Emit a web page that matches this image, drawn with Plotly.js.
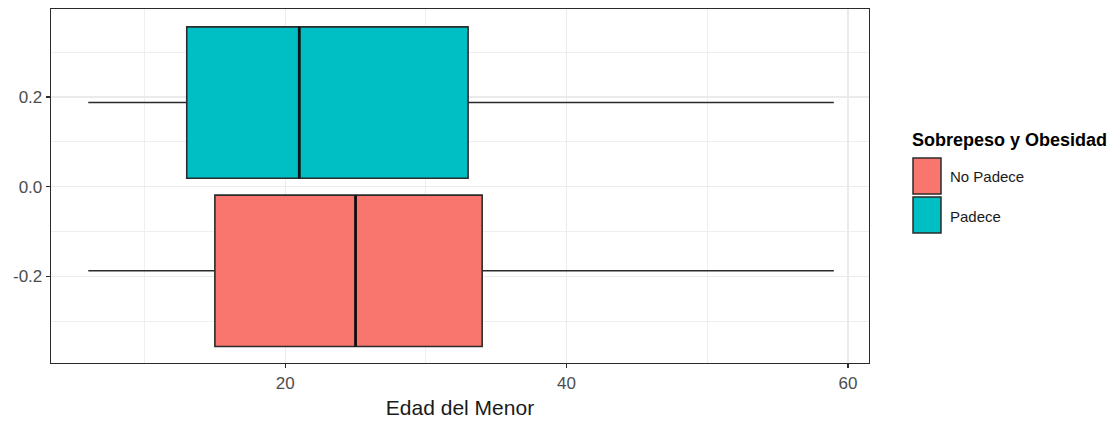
<!DOCTYPE html>
<html>
<head>
<meta charset="utf-8">
<script src="https://cdn.plot.ly/plotly-3.0.1.min.js"></script>
<style>
  html, body { margin: 0; padding: 0; background: #ffffff; }
  #chart { width: 1117px; height: 423px; }
</style>
</head>
<body>
<div id="chart"></div>
<script>
// ---- data ----
const groups = ['No Padece', 'Padece'];
const positions = [-0.1875, 0.1875];
const lowerFence = [6, 6];
const q1 = [15, 13];
const median = [25, 21];
const q3 = [34, 33];
const upperFence = [59, 59];
const colors = ['#F8766D', '#00BFC4'];
const yTickVals = [-0.2, 0.0, 0.2];
const yTickText = ['-0.2', '0.0', '0.2'];
const xTickVals = [20, 40, 60];
const xTickText = ['20', '40', '60'];
const legendTitle = 'Sobrepeso y Obesidad';
const xTitle = 'Edad del Menor';

// ---- styles ----
const BOX_WIDTH = 0.3375;
const FONT = '"Liberation Sans", Arial, Helvetica, sans-serif';
const EDGE = '#2b2b2b';

const traces = [];
groups.forEach((g, i) => {
  traces.push({
    type: 'box',
    orientation: 'h',
    name: g,
    y: [positions[i]],
    q1: [q1[i]],
    median: [median[i]],
    q3: [q3[i]],
    lowerfence: [lowerFence[i]],
    upperfence: [upperFence[i]],
    width: BOX_WIDTH,
    whiskerwidth: 0,
    boxpoints: false,
    fillcolor: colors[i],
    line: { color: EDGE, width: 1.6 },
    hoverinfo: 'skip',
    showlegend: false
  });
});
// thicker median lines (ggplot fatten)
groups.forEach((g, i) => {
  traces.push({
    type: 'scatter',
    mode: 'lines',
    x: [median[i], median[i]],
    y: [positions[i] - BOX_WIDTH / 2, positions[i] + BOX_WIDTH / 2],
    line: { color: '#111111', width: 2.8 },
    hoverinfo: 'skip',
    showlegend: false
  });
});

// custom legend (ggplot-style keys)
const L = 51, R = 869, T = 9, B = 363;
const px = v => (v - L) / (R - L);
const py = v => (B - v) / (B - T);
const keyTops = [158, 197];
const keyBottoms = [194, 233];
const labelCenters = [177, 216.5];

const shapes = [];
const annotations = [{
  xref: 'paper', yref: 'paper',
  x: px(910), y: py(140),
  xanchor: 'left', yanchor: 'middle',
  text: '<b>' + legendTitle + '</b>',
  showarrow: false,
  font: { family: FONT, size: 18, color: '#000000' }
}];
groups.forEach((g, i) => {
  shapes.push({
    type: 'rect', xref: 'paper', yref: 'paper',
    x0: px(913), x1: px(941),
    y0: py(keyBottoms[i]), y1: py(keyTops[i]),
    fillcolor: colors[i],
    line: { color: EDGE, width: 1.5 }
  });
  annotations.push({
    xref: 'paper', yref: 'paper',
    x: px(948), y: py(labelCenters[i]),
    xanchor: 'left', yanchor: 'middle',
    text: g,
    showarrow: false,
    font: { family: FONT, size: 15, color: '#1a1a1a' }
  });
});

const layout = {
  width: 1117,
  height: 423,
  margin: { l: 51, r: 1117 - 869, t: 9, b: 423 - 363, pad: 0 },
  paper_bgcolor: '#ffffff',
  plot_bgcolor: '#ffffff',
  font: { family: FONT, color: '#4D4D4D' },
  showlegend: false,
  boxmode: 'overlay',
  xaxis: {
    range: [3.35, 61.5],
    tickmode: 'array',
    tickvals: xTickVals,
    ticktext: xTickText,
    ticks: 'outside',
    ticklen: 4,
    tickwidth: 1.2,
    tickcolor: EDGE,
    tickfont: { family: FONT, size: 17, color: '#4D4D4D' },
    showgrid: true,
    gridcolor: '#EBEBEB',
    gridwidth: 1.2,
    minor: { tick0: 0, dtick: 10, showgrid: true, gridcolor: '#EFEFEF', gridwidth: 1, ticks: '' },
    zeroline: false,
    showline: true,
    linecolor: EDGE,
    linewidth: 1.3,
    mirror: true,
    title: { text: xTitle, standoff: 8, font: { family: FONT, size: 21, color: '#1a1a1a' } }
  },
  yaxis: {
    range: [-0.393, 0.396],
    tickmode: 'array',
    tickvals: yTickVals,
    ticktext: yTickText,
    ticks: 'outside',
    ticklen: 4,
    tickwidth: 1.2,
    tickcolor: EDGE,
    tickfont: { family: FONT, size: 17, color: '#4D4D4D' },
    showgrid: true,
    gridcolor: '#EBEBEB',
    gridwidth: 1.2,
    minor: { tick0: 0, dtick: 0.1, showgrid: true, gridcolor: '#EFEFEF', gridwidth: 1, ticks: '' },
    zeroline: false,
    showline: true,
    linecolor: EDGE,
    linewidth: 1.3,
    mirror: true
  },
  shapes: shapes,
  annotations: annotations
};

Plotly.newPlot('chart', traces, layout, { displayModeBar: false, staticPlot: true });
</script>
</body>
</html>
